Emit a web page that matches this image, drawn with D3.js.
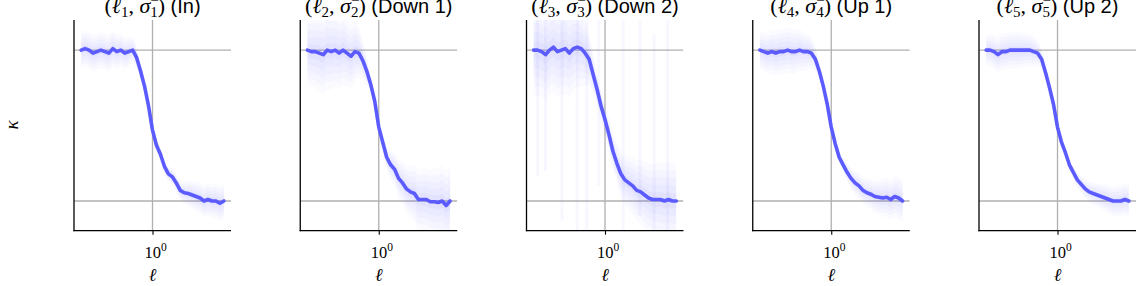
<!DOCTYPE html>
<html><head><meta charset="utf-8">
<script src="https://cdn.jsdelivr.net/npm/d3@7"></script>
<style>body{margin:0;background:#fff}svg{display:block}</style>
</head><body>
<svg id="c" width="1136" height="286"></svg>
<script>
// ---- data ----
const logEll = [-0.9,-0.85,-0.8,-0.75,-0.7,-0.65,-0.6,-0.55,-0.5,-0.45,-0.4,-0.35,-0.3,-0.25,-0.2,-0.15,-0.1,-0.05,0,
  0.05,0.1,0.15,0.2,0.25,0.3,0.35,0.4,0.45,0.5,0.55,0.6,0.65,0.7,0.75,0.8,0.85,0.9];
const kappaIn    = [1.00,1.01,1.00,0.98,0.99,1.00,0.99,0.98,1.01,0.99,1.00,0.98,0.99,1.00,0.95,0.86,0.76,0.63,0.47,
  0.37,0.31,0.23,0.18,0.16,0.12,0.07,0.055,0.05,0.04,0.03,0.02,0.00,0.01,0.00,0.00,-0.015,0.00];
const kappaDown1 = [1.00,0.99,0.99,0.98,0.97,1.00,0.99,1.00,0.98,1.00,0.98,0.96,0.99,0.98,0.93,0.86,0.77,0.66,0.49,
  0.39,0.29,0.24,0.21,0.15,0.12,0.08,0.06,0.05,0.01,0.01,0.01,-0.005,-0.005,-0.01,0.00,-0.03,0.00];
const kappaDown2 = [1.00,1.00,0.99,0.97,1.00,1.02,0.99,1.00,1.01,0.98,1.01,1.02,1.01,0.98,0.94,0.84,0.74,0.63,0.54,
  0.44,0.33,0.25,0.18,0.14,0.12,0.10,0.07,0.06,0.04,0.02,0.01,0.01,0.01,0.00,0.01,0.00,0.00];
const kappaUp1   = [1.00,0.99,0.98,0.99,0.98,0.99,0.99,1.00,0.99,0.99,1.00,0.99,0.99,0.98,0.94,0.86,0.76,0.64,0.49,
  0.38,0.29,0.24,0.19,0.15,0.12,0.10,0.07,0.055,0.045,0.03,0.025,0.02,0.025,0.01,0.03,0.02,0.00];
const kappaUp2   = [1.00,1.00,0.99,0.97,0.99,0.99,1.00,1.00,1.00,1.00,1.00,1.00,0.99,0.98,0.94,0.85,0.75,0.64,0.49,
  0.39,0.32,0.24,0.19,0.14,0.11,0.08,0.06,0.05,0.04,0.03,0.02,0.01,0.00,0.00,0.00,0.01,0.00];
// spread of the individual runs around the mean (half-width, in kappa units)
const spreadLogEll = [-0.9,-0.7,-0.5,-0.3,-0.1,0.1,0.3,0.5,0.7,0.9];
const spreadIn    = [0.12,0.12,0.12,0.10,0.04,0.04,0.06,0.09,0.11,0.12];
const spreadDown1 = [0.22,0.26,0.24,0.20,0.06,0.08,0.14,0.20,0.22,0.24];
const spreadDown2 = [0.30,0.30,0.30,0.25,0.10,0.12,0.18,0.22,0.25,0.25];
const spreadUp1   = [0.12,0.15,0.15,0.12,0.04,0.04,0.08,0.10,0.13,0.14];
const spreadUp2   = [0.10,0.12,0.12,0.10,0.03,0.03,0.06,0.08,0.10,0.11];
// outlier runs in "Down 2": [log10 ell, kappa low, kappa high]
const streaksDown2 = [[-0.85,0.16,1.2],[-0.75,0.2,1.2],[-0.54,-0.13,1.2],[-0.35,-0.2,1.2],[-0.23,-0.2,1.2],
  [-0.08,0.1,1.2],[0.23,-0.2,1.2],[0.44,-0.1,1.2],[0.62,-0.2,1.1],[0.79,-0.2,1.2]];
const subs = ["1","2","3","4","5"];
const panelNames = ["In","Down 1","Down 2","Up 1","Up 2"];
const kappas = [kappaIn,kappaDown1,kappaDown2,kappaUp1,kappaUp2];
const spreads = [spreadIn,spreadDown1,spreadDown2,spreadUp1,spreadUp2];
const streaks = [[],[],streaksDown2,[],[]];

(function(){
const svg = d3.select("#c");
const blue = "#5b5bff", grid = "#b0b0b0";
const topY = 20, botY = 230.7, pw = 157, step = 226.25, left0 = 74;
const serif = "'Liberation Serif','DejaVu Serif',serif";
const sans = "'Liberation Sans','DejaVu Sans',sans-serif";

const y = d3.scaleLinear().domain([-0.197, 1.2]).range([botY, topY]);

svg.append("text").attr("transform","translate(18,125) rotate(-90)")
  .attr("text-anchor","middle").attr("font-family",serif).attr("font-style","italic")
  .attr("font-size",19).text("κ");

kappas.forEach((kap, p) => {
  const L = left0 + step*p;
  const x = d3.scaleLog().domain([Math.pow(10,-0.99), Math.pow(10,0.99)]).range([L, L+pw]);
  const g = svg.append("g");
  const clipId = "clip"+p;
  svg.append("clipPath").attr("id",clipId).append("rect")
    .attr("x",L).attr("y",topY).attr("width",pw).attr("height",botY-topY);
  const pg = g.append("g").attr("clip-path",`url(#${clipId})`);

  [0,1].forEach(v => pg.append("line").attr("x1",L).attr("x2",L+pw)
    .attr("y1",y(v)).attr("y2",y(v)).attr("stroke",grid).attr("stroke-width",1.3));
  pg.append("line").attr("x1",x(1)).attr("x2",x(1)).attr("y1",topY).attr("y2",botY)
    .attr("stroke",grid).attr("stroke-width",1.3);

  const meanAt = d3.scaleLinear().domain(logEll).range(kap);
  const sp = spreads[p];
  const spAt = d3.scaleLinear().domain(spreadLogEll).range(sp);
  const fine = logEll.map(t => ({t, m: meanAt(t), s: spAt(t)}));
  [[1.0,0.03],[0.8,0.03],[0.6,0.035],[0.4,0.04],[0.2,0.05]].forEach(([f,o]) => {
    const area = d3.area().curve(d3.curveMonotoneX)
      .x(d => x(Math.pow(10,d.t))).y0(d => y(d.m - d.s*f)).y1(d => y(d.m + d.s*f));
    pg.append("path").datum(fine).attr("d",area).attr("fill",blue).attr("fill-opacity",o);
  });
  streaks[p].forEach(s => {
    pg.append("line").attr("x1",x(Math.pow(10,s[0]))).attr("x2",x(Math.pow(10,s[0])))
      .attr("y1",y(s[1])).attr("y2",y(s[2])).attr("stroke",blue).attr("stroke-opacity",0.05)
      .attr("stroke-width",3);
  });

  const line = d3.line().x((d,i)=>x(Math.pow(10,logEll[i]))).y(d=>y(d));
  pg.append("path").datum(kap).attr("d",line).attr("fill","none").attr("stroke",blue)
    .attr("stroke-width",3.6).attr("stroke-linejoin","round").attr("stroke-linecap","round");

  g.append("line").attr("x1",L).attr("x2",L).attr("y1",topY).attr("y2",botY+0.6)
    .attr("stroke","#000").attr("stroke-width",1.3);
  g.append("line").attr("x1",L-0.6).attr("x2",L+pw).attr("y1",botY).attr("y2",botY)
    .attr("stroke","#000").attr("stroke-width",1.3);
  const ax = g.append("g").attr("transform",`translate(0,${botY})`)
    .call(d3.axisBottom(x).tickValues([1]).tickSize(4).tickFormat(""));
  ax.select(".domain").remove();
  ax.selectAll("line").attr("stroke","#000").attr("stroke-width",1.1);
  const tl = g.append("text").attr("x",x(1)+3).attr("y",258).attr("text-anchor","middle")
    .attr("font-family",serif).attr("font-size",16.5);
  tl.append("tspan").text("10");
  tl.append("tspan").attr("font-size",11.5).attr("dy",-7).text("0");
  g.append("text").attr("x",x(1)).attr("y",281).attr("text-anchor","middle")
    .attr("font-family",serif).attr("font-style","italic").attr("font-size",18).text("ℓ");

  const tt = g.append("text").attr("x",L+pw/2).attr("y",12.5).attr("text-anchor","middle")
    .attr("font-size",22).attr("font-family",serif);
  tt.append("tspan").text("(");
  tt.append("tspan").attr("font-style","italic").text("ℓ");
  tt.append("tspan").attr("font-size",15).attr("dy",4).text(subs[p]);
  tt.append("tspan").attr("dy",-4).text(", ");
  tt.append("tspan").attr("font-style","italic").text("σ");
  tt.append("tspan").attr("font-size",15).attr("dy",-8).text("−");
  tt.append("tspan").attr("font-size",15).attr("dx",-8.5).attr("dy",12).text(subs[p]);
  tt.append("tspan").attr("dy",-4).text(")");
  tt.append("tspan").attr("font-family",sans).attr("font-size",20).text(" (" + panelNames[p] + ")");
});
})();
</script>
</body></html>
